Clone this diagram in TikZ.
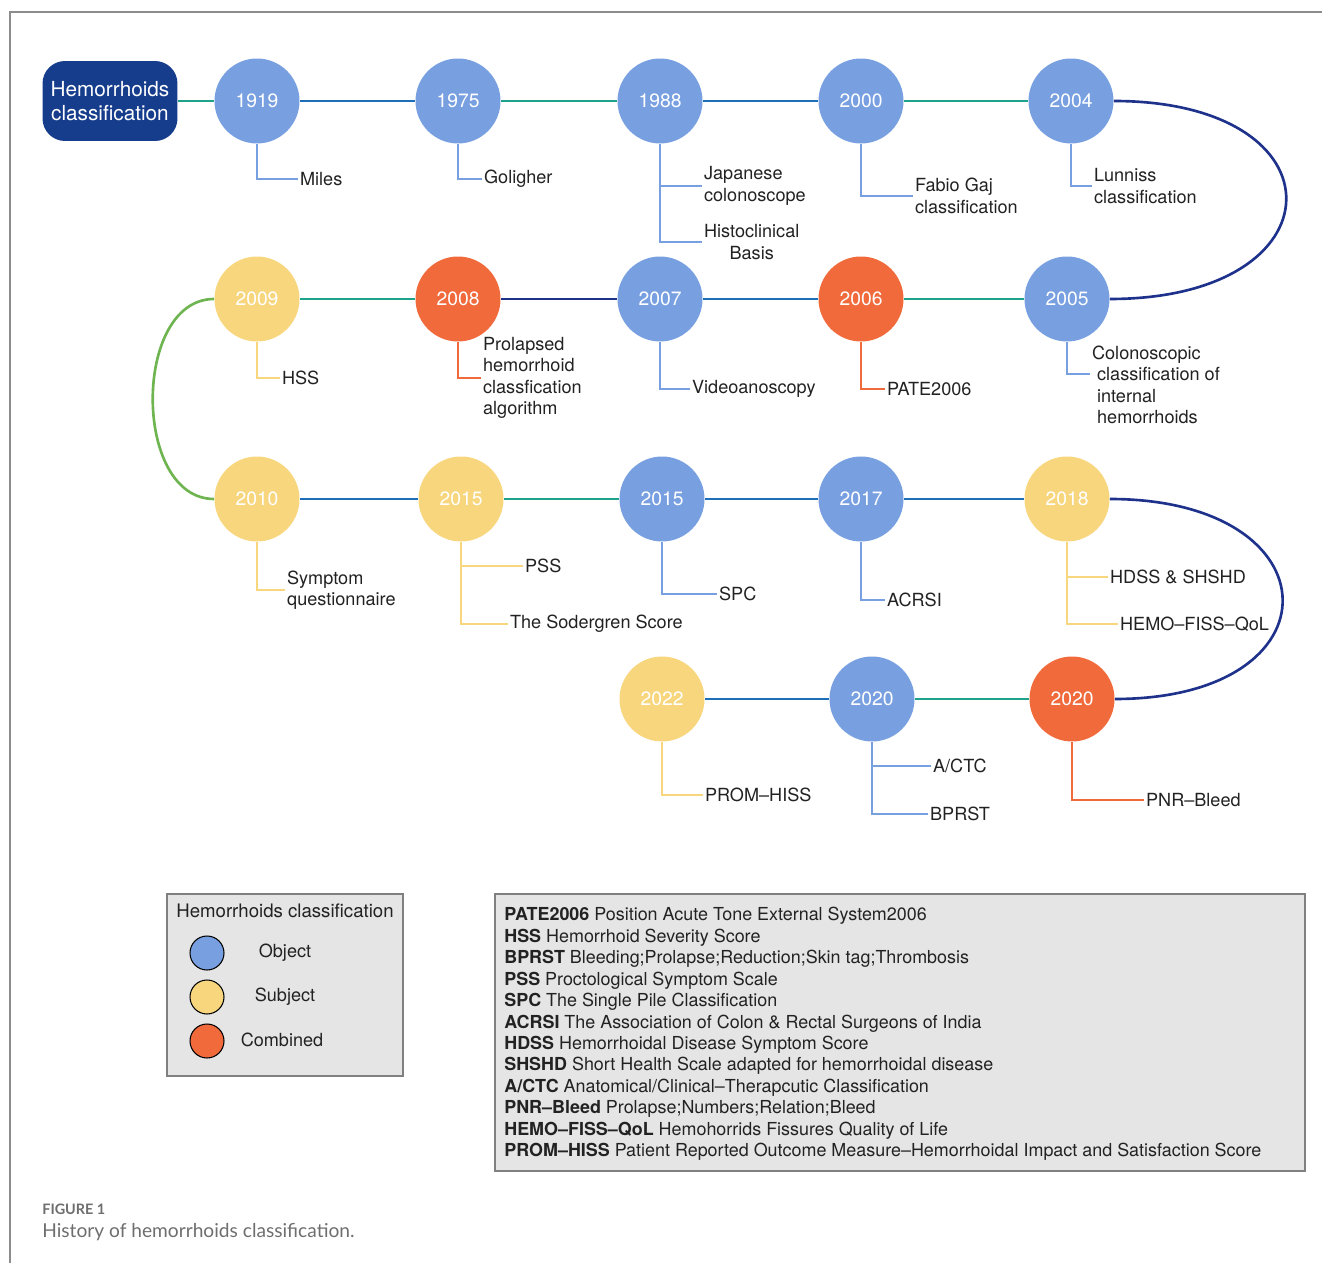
\documentclass[tikz,border=0pt]{standalone}
\usepackage{fontspec}
\setmainfont{TeX Gyre Heros}
\newfontfamily\capfont{Lato}
\usepackage{tikz}
\usetikzlibrary{positioning,calc}
\definecolor{cobj}{RGB}{120,160,225}
\definecolor{csub}{RGB}{248,214,125}
\definecolor{ccom}{RGB}{240,106,60}
\definecolor{ctitle}{RGB}{22,60,140}
\definecolor{lteal}{RGB}{30,162,140}
\definecolor{lblue}{RGB}{28,110,185}
\definecolor{lnavy}{RGB}{30,50,140}
\definecolor{lgreen}{RGB}{110,180,80}
\definecolor{txt}{RGB}{34,34,34}
\definecolor{boxfill}{RGB}{229,229,229}
\definecolor{capgray}{RGB}{110,110,110}

\begin{document}
\begin{tikzpicture}
 [x=0.02cm,y=-0.02cm,
  yr/.style={circle,inner sep=0pt,minimum size=1.7cm,text=white,font=\fontsize{11}{12}\selectfont},
  ob/.style={yr,fill=cobj},
  sb/.style={yr,fill=csub},
  mb/.style={yr,fill=ccom},
  tx/.style={anchor=west,inner sep=1pt,align=left,text=txt,font=\fontsize{10.3}{12.2}\selectfont},
  gl/.style={lteal,line width=1.5pt},
  bl/.style={lblue,line width=1.5pt},
  nl/.style={lnavy,line width=1.5pt},
  vl/.style={lgreen,line width=1.5pt},
  lo/.style={cobj,line width=0.9pt},
  ls/.style={csub,line width=0.9pt},
  lm/.style={ccom,line width=0.9pt},
  bx/.style={draw=gray,fill=boxfill,line width=0.6pt},
  key/.style={circle,draw=black,line width=0.6pt,minimum size=0.68cm,inner sep=0pt}]
 \useasboundingbox (0,0) rectangle (1322,1263);
 \draw[gray!90,line width=0.8pt] (10,1263) |- (1322,12);

 \node[fill=ctitle,rounded corners=0.45cm,minimum width=2.7cm,minimum height=1.6cm,
   inner sep=1pt,text=white,align=center,font=\fontsize{11.8}{13.5}\selectfont]
   (hc) at (110,101) {Hemorrhoids\\classification};

 \node[ob] (y1919) at (257,101) {1919};
 \node[ob] (y1975) at (458,101) {1975};
 \node[ob] (y1988) at (660,101) {1988};
 \node[ob] (y2000) at (861,101) {2000};
 \node[ob] (y2004) at (1071,101) {2004};
 \node[sb] (y2009) at (257,299) {2009};
 \node[mb] (y2008) at (458,299) {2008};
 \node[ob] (y2007) at (660,299) {2007};
 \node[mb] (y2006) at (861,299) {2006};
 \node[ob] (y2005) at (1067,299) {2005};
 \node[sb] (y2010) at (257,499) {2010};
 \node[sb] (y2015a) at (461,499) {2015};
 \node[ob] (y2015b) at (662,499) {2015};
 \node[ob] (y2017) at (861,499) {2017};
 \node[sb] (y2018) at (1067,499) {2018};
 \node[sb] (y2022) at (662,699) {2022};
 \node[ob] (y2020b) at (872,699) {2020};
 \node[mb] (y2020c) at (1072,699) {2020};

 \draw[gl] (hc) -- (y1919);
 \draw[bl] (y1919) -- (y1975);
 \draw[gl] (y1975) -- (y1988);
 \draw[bl] (y1988) -- (y2000);
 \draw[gl] (y2000) -- (y2004);
 \draw[nl] (y2004) to[out=0,in=0,looseness=3] (y2005);
 \draw[gl] (y2005) -- (y2006);
 \draw[bl] (y2006) -- (y2007);
 \draw[nl] (y2007) -- (y2008);
 \draw[gl] (y2008) -- (y2009);
 \draw[vl] (y2009) to[out=180,in=180,looseness=1.05] (y2010);
 \draw[bl] (y2010) -- (y2015a);
 \draw[gl] (y2015a) -- (y2015b);
 \draw[bl] (y2015b) -- (y2017);
 \draw[bl] (y2017) -- (y2018);
 \draw[nl] (y2018) to[out=0,in=0,looseness=2.9] (y2020c);
 \draw[gl] (y2020c) -- (y2020b);
 \draw[bl] (y2020b) -- (y2022);

 \node[tx] (miles) at (298,179) {Miles};
 \node[tx] (goli) at (482,179) {Goligher};
 \node[tx] (japan) at (702,186) {Japanese\\colonoscope};
 \node[tx,align=center] (histo) at (702,242) {Histoclinical\\Basis};
 \node[tx] (fabio) at (913,196) {Fabio Gaj\\classification};
 \node[tx] (lunn) at (1092,186) {Lunniss\\classification};
 \node[tx] (hss) at (280,378) {HSS};
 \node[tx] (prol) at (481,378) {Prolapsed\\hemorrhoid\\classfication\\algorithm};
 \node[tx] (video) at (690,389) {Videoanoscopy};
 \node[tx] (pate) at (885,389) {PATE2006};
 \node[tx] (colo) at (1090,385) {Colonoscopic\\\ classification of\\\ internal\\\ hemorrhoids};
 \node[tx] (symp) at (285,590) {Symptom\\questionnaire};
 \node[tx] (pss) at (523,566) {PSS};
 \node[tx] (soder) at (508,624) {The Sodergren Score};
 \node[tx] (spc) at (717,594) {SPC};
 \node[tx] (acrsi) at (885,600) {ACRSI};
 \node[tx] (hdss) at (1108,577) {HDSS \& SHSHD};
 \node[tx] (hemo) at (1118,624) {HEMO--FISS--QoL};
 \node[tx] (prom) at (703,795) {PROM--HISS};
 \node[tx] (actc) at (931,766) {A/CTC};
 \node[tx] (bprst) at (928,814) {BPRST};
 \node[tx] (pnr) at (1144,800) {PNR--Bleed};

 \draw[lo] (y1919) |- (miles);
 \draw[lo] (y1975) |- (goli);
 \draw[lo] (y1988) |- (japan);
 \draw[lo] (y1988) |- (histo);
 \draw[lo] (y2000) |- (fabio);
 \draw[lo] (y2004) |- (lunn);
 \draw[ls] (y2009) |- (hss);
 \draw[lm] (y2008) |- (prol);
 \draw[lo] (y2007) |- (video);
 \draw[lm] (y2006) |- (pate);
 \draw[lo] (y2005) |- ([yshift=0.22cm]colo.west);
 \draw[ls] (y2010) |- (symp);
 \draw[ls] (y2015a) |- (pss);
 \draw[ls] (y2015a) |- (soder);
 \draw[lo] (y2015b) |- (spc);
 \draw[lo] (y2017) |- (acrsi);
 \draw[ls] (y2018) |- (hdss);
 \draw[ls] (y2018) |- (hemo);
 \draw[ls] (y2022) |- (prom);
 \draw[lo] (y2020b) |- (actc);
 \draw[lo] (y2020b) |- (bprst);
 \draw[lm] (y2020c) |- (pnr);

 \draw[bx] (167,894) rectangle (403,1076);
 \node[text=txt,font=\fontsize{10.6}{12}\selectfont] (legt) at (285,911) {Hemorrhoids classification};
 \node[key,fill=cobj] (kobj) at (207,953) {};
 \node[key,fill=csub] (ksub) at (207,997) {};
 \node[key,fill=ccom] (kcom) at (207,1041) {};
 \node[text=txt,font=\fontsize{10.3}{12}\selectfont] (lobj) at (285,953) {Object};
 \node[text=txt,font=\fontsize{10.3}{12}\selectfont] (lsub) at (285,997) {Subject};
 \node[text=txt,font=\fontsize{10.3}{12}\selectfont] (lcom) at (282,1040) {Combined};

 \draw[bx] (495,894) rectangle (1305,1171);
 \node[anchor=west,inner sep=0pt,align=left,text=txt,font=\fontsize{10.2}{12.2}\selectfont] (abbr) at (504,1034)
  {\textbf{PATE2006} Position Acute Tone External System2006\\
   \textbf{HSS} Hemorrhoid Severity Score\\
   \textbf{BPRST} Bleeding;Prolapse;Reduction;Skin tag;Thrombosis\\
   \textbf{PSS} Proctological Symptom Scale\\
   \textbf{SPC} The Single Pile Classification\\
   \textbf{ACRSI} The Association of Colon \& Rectal Surgeons of India\\
   \textbf{HDSS} Hemorrhoidal Disease Symptom Score\\
   \textbf{SHSHD} Short Health Scale adapted for hemorrhoidal disease\\
   \textbf{A/CTC} Anatomical/Clinical--Therapcutic Classification\\
   \textbf{PNR--Bleed} Prolapse;Numbers;Relation;Bleed\\
   \textbf{HEMO--FISS--QoL} Hemohorrids Fissures Quality of Life\\
   \textbf{PROM--HISS} Patient Reported Outcome Measure--Hemorrhoidal Impact and Satisfaction Score};

 \node[anchor=west,inner sep=0pt,text=capgray,font=\capfont\bfseries\fontsize{8.2}{9}\selectfont] (fig) at (42,1209) {FIGURE 1};
 \node[anchor=west,inner sep=0pt,text=capgray,font=\capfont\fontsize{10.9}{12}\selectfont] (cap) at (42,1232) {History of hemorrhoids classification.};
\end{tikzpicture}
\end{document}
